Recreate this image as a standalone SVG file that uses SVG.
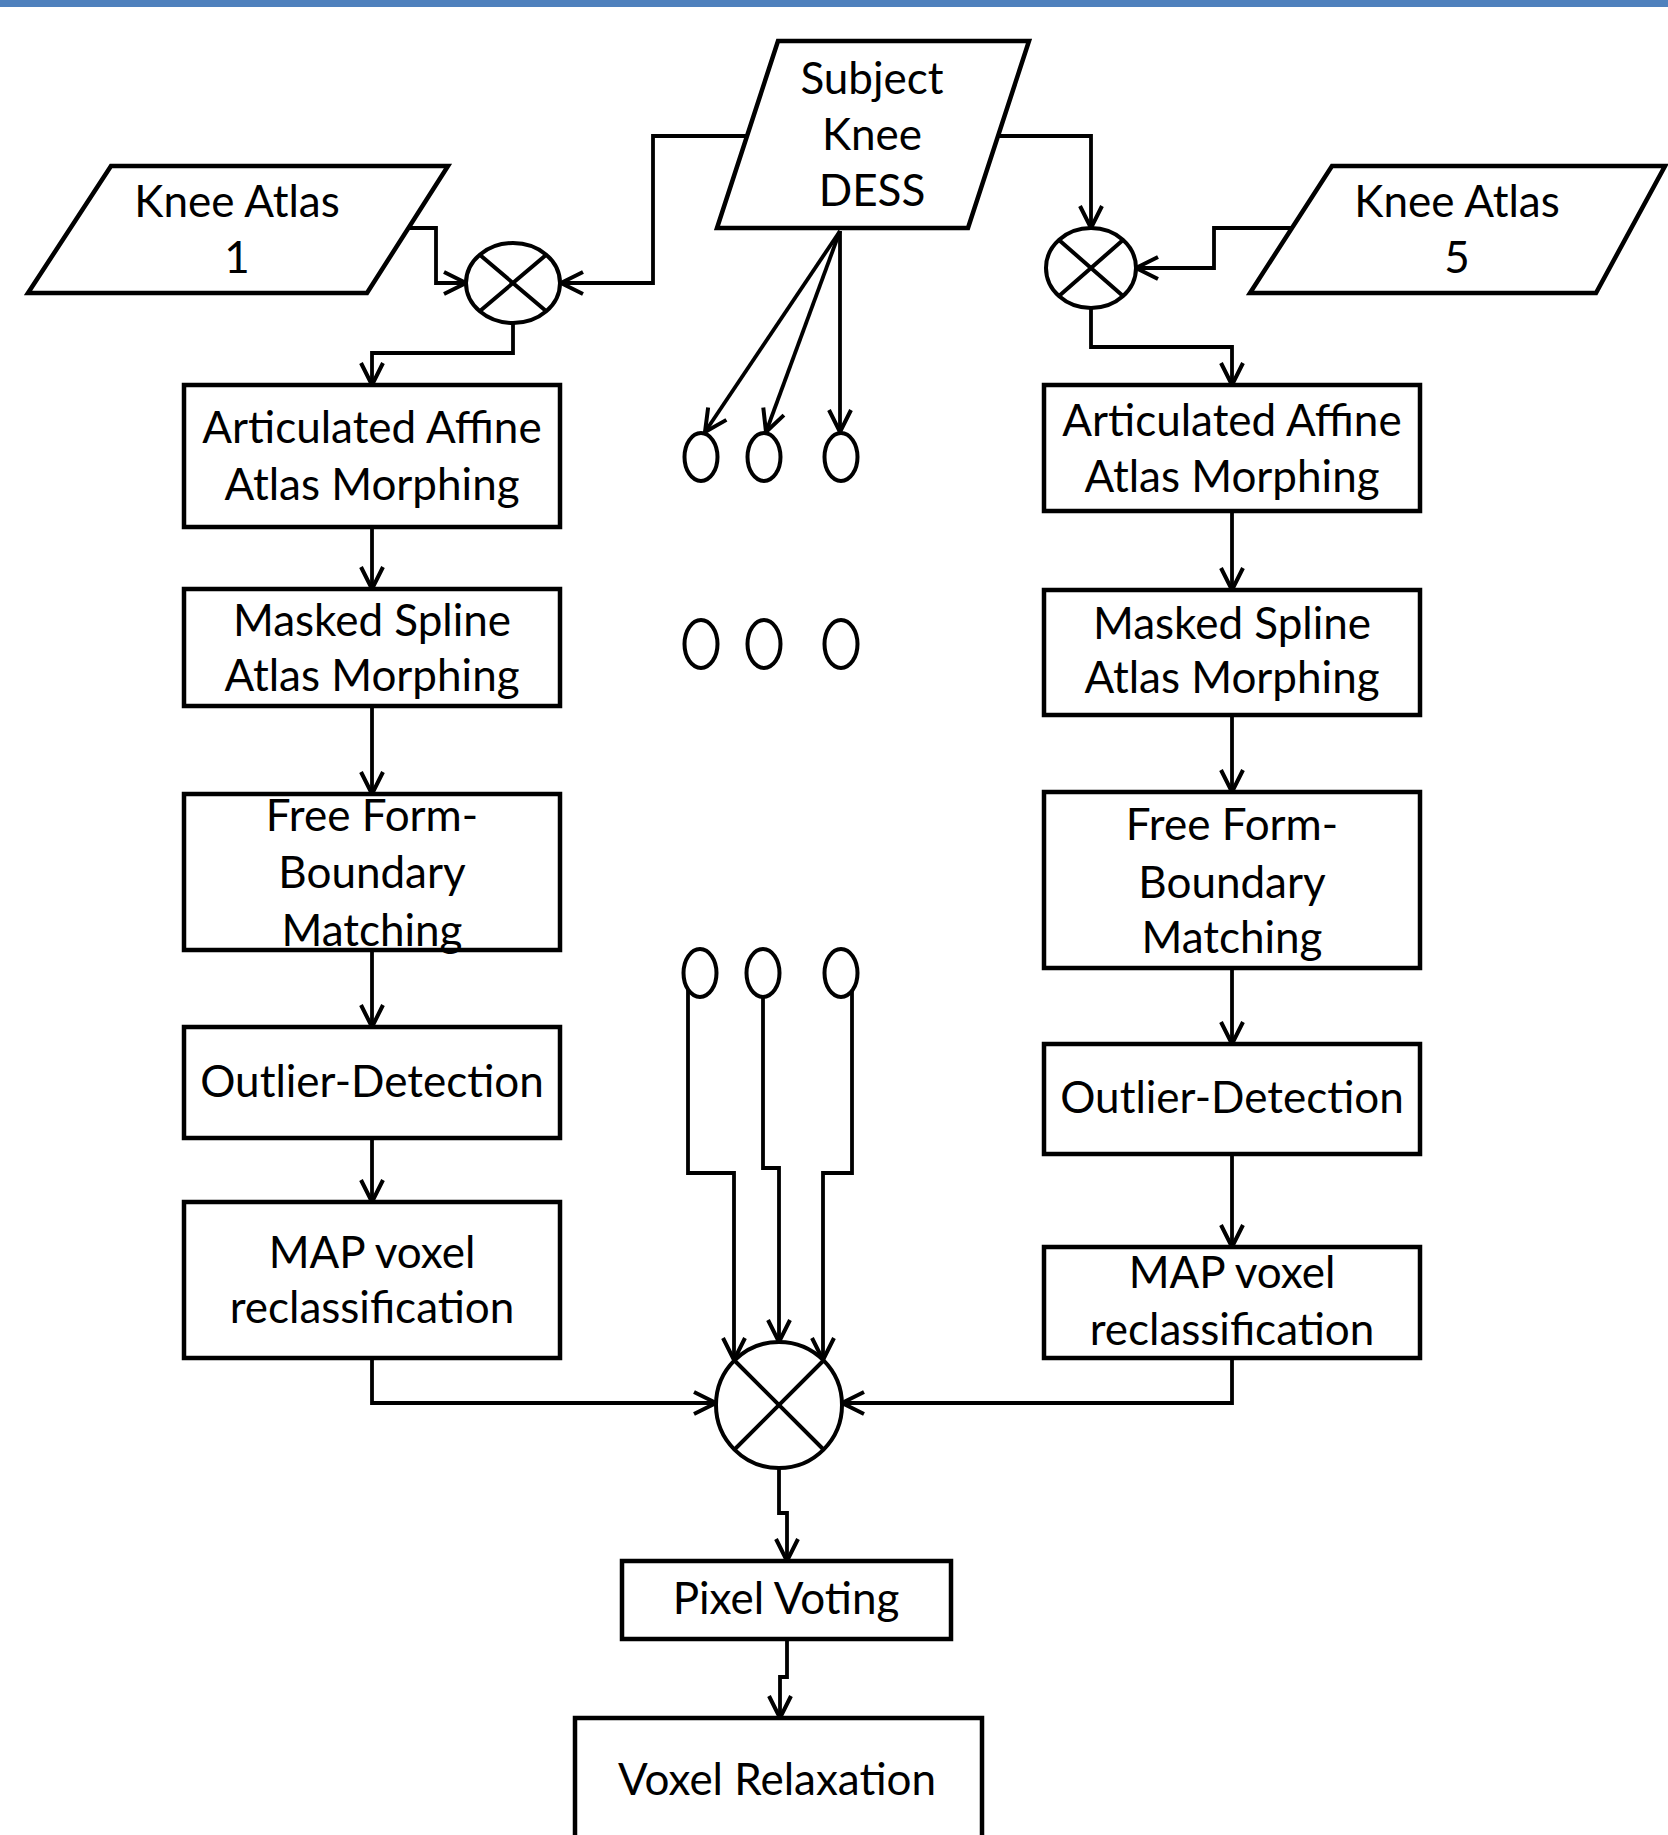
<svg xmlns="http://www.w3.org/2000/svg" width="1668" height="1835" viewBox="0 0 1668 1835">
<style>
.box{fill:#fff;stroke:#000;stroke-width:4.5;stroke-linejoin:miter}
.sh{fill:#fff;stroke:#000;stroke-width:4}
.x{stroke:#000;stroke-width:4;fill:none}
.c{fill:none;stroke:#000;stroke-width:3.8;stroke-linejoin:miter;marker-end:url(#arr)}
.t{font-family:Lato,"Open Sans","Liberation Sans",sans-serif;font-size:44px;fill:#000;text-anchor:middle}
</style>
<defs>
<marker id="arr" markerUnits="userSpaceOnUse" markerWidth="28" markerHeight="28" viewBox="0 0 28 28" refX="24" refY="14" orient="auto">
<path d="M2,3 L24,14 L2,25" fill="none" stroke="#000" stroke-width="4"/>
</marker>
</defs>
<rect x="0" y="0" width="1668" height="7" fill="#4f81bd"/>

<g id="connectors">
<path class="c" d="M747,136 H653 V283 H561"/>
<path class="c" d="M408,228 H436 V283 H466"/>
<path class="c" d="M513,323 V353 H372 V385"/>
<path class="c" d="M999,136 H1091 V228"/>
<path class="c" d="M1292,228 H1214 V268 H1136"/>
<path class="c" d="M1091,308 V347 H1232 V385"/>
<path class="c" d="M372,527 V589"/>
<path class="c" d="M372,706 V794"/>
<path class="c" d="M372,950 V1027"/>
<path class="c" d="M372,1138 V1202"/>
<path class="c" d="M1232,511 V590"/>
<path class="c" d="M1232,715 V792"/>
<path class="c" d="M1232,968 V1044"/>
<path class="c" d="M1232,1154 V1247"/>
<path class="c" d="M840,231 L705,432"/>
<path class="c" d="M840,231 L766,432"/>
<path class="c" d="M840,231 V432"/>
<path class="c" d="M688,988 V1173 H734 V1360"/>
<path class="c" d="M763,997 V1168 H779 V1342"/>
<path class="c" d="M852,988 V1173 H823 V1360"/>
<path class="c" d="M372,1358 V1403 H716"/>
<path class="c" d="M1232,1358 V1403 H842"/>
<path class="c" d="M779,1468 V1513 H787 V1561"/>
<path class="c" d="M787,1639 V1677 H780 V1718"/>
</g>

<g id="subject">
<polygon class="box" points="778,41 1029,41 968,228 717,228"/>
<text class="t" x="872" y="94">Subject</text>
<text class="t" x="872" y="150">Knee</text>
<text class="t" x="872" y="206">DESS</text>
</g>
<g id="atlas1">
<polygon class="box" points="111,166 448,166 367,293 28,293"/>
<text class="t" x="237" y="217">Knee Atlas</text>
<text class="t" x="237" y="273">1</text>
</g>
<g id="atlas5">
<polygon class="box" points="1332,166 1665,166 1596,293 1250,293"/>
<text class="t" x="1457" y="217">Knee Atlas</text>
<text class="t" x="1457" y="273">5</text>
</g>
<g id="mult1">
<ellipse class="sh" cx="513" cy="283" rx="47" ry="40"/>
<path class="x" d="M480,255 L546,311 M546,255 L480,311"/>
</g>
<g id="mult5">
<ellipse class="sh" cx="1091" cy="268" rx="45" ry="40"/>
<path class="x" d="M1059,240 L1123,296 M1123,240 L1059,296"/>
</g>

<g id="l-affine">
<rect class="box" x="184" y="385" width="376" height="142"/>
<text class="t" x="372" y="443">Articulated Affine</text>
<text class="t" x="372" y="500">Atlas Morphing</text>
</g>
<g id="l-spline">
<rect class="box" x="184" y="589" width="376" height="117"/>
<text class="t" x="372" y="636">Masked Spline</text>
<text class="t" x="372" y="691">Atlas Morphing</text>
</g>
<g id="l-ffbm">
<rect class="box" x="184" y="794" width="376" height="156"/>
<text class="t" x="372" y="831">Free Form-</text>
<text class="t" x="372" y="888">Boundary</text>
<text class="t" x="372" y="946">Matching</text>
</g>
<g id="l-outlier">
<rect class="box" x="184" y="1027" width="376" height="111"/>
<text class="t" x="372" y="1097">Outlier-Detection</text>
</g>
<g id="l-map">
<rect class="box" x="184" y="1202" width="376" height="156"/>
<text class="t" x="372" y="1268">MAP voxel</text>
<text class="t" x="372" y="1323">reclassification</text>
</g>

<g id="r-affine">
<rect class="box" x="1044" y="385" width="376" height="126"/>
<text class="t" x="1232" y="436">Articulated Affine</text>
<text class="t" x="1232" y="492">Atlas Morphing</text>
</g>
<g id="r-spline">
<rect class="box" x="1044" y="590" width="376" height="125"/>
<text class="t" x="1232" y="639">Masked Spline</text>
<text class="t" x="1232" y="693">Atlas Morphing</text>
</g>
<g id="r-ffbm">
<rect class="box" x="1044" y="792" width="376" height="176"/>
<text class="t" x="1232" y="840">Free Form-</text>
<text class="t" x="1232" y="898">Boundary</text>
<text class="t" x="1232" y="953">Matching</text>
</g>
<g id="r-outlier">
<rect class="box" x="1044" y="1044" width="376" height="110"/>
<text class="t" x="1232" y="1113">Outlier-Detection</text>
</g>
<g id="r-map">
<rect class="box" x="1044" y="1247" width="376" height="111"/>
<text class="t" x="1232" y="1288">MAP voxel</text>
<text class="t" x="1232" y="1345">reclassification</text>
</g>

<g id="dots">
<ellipse class="sh" cx="701" cy="457" rx="16.5" ry="24"/>
<ellipse class="sh" cx="764" cy="457" rx="16.5" ry="24"/>
<ellipse class="sh" cx="841" cy="457" rx="16.5" ry="24"/>
<ellipse class="sh" cx="701" cy="644" rx="16.5" ry="24"/>
<ellipse class="sh" cx="764" cy="644" rx="16.5" ry="24"/>
<ellipse class="sh" cx="841" cy="644" rx="16.5" ry="24"/>
<ellipse class="sh" cx="700" cy="973" rx="16.5" ry="24"/>
<ellipse class="sh" cx="763" cy="973" rx="16.5" ry="24"/>
<ellipse class="sh" cx="841" cy="973" rx="16.5" ry="24"/>
</g>

<g id="fusion">
<ellipse class="sh" cx="779" cy="1405" rx="63" ry="63"/>
<path class="x" d="M734.5,1360.5 L823.5,1449.5 M823.5,1360.5 L734.5,1449.5"/>
</g>
<g id="voting">
<rect class="box" x="622" y="1561" width="329" height="78"/>
<text class="t" x="786" y="1614">Pixel Voting</text>
</g>
<g id="relax">
<rect class="box" x="575" y="1718" width="407" height="200"/>
<text class="t" x="777" y="1795">Voxel Relaxation</text>
</g>
</svg>
